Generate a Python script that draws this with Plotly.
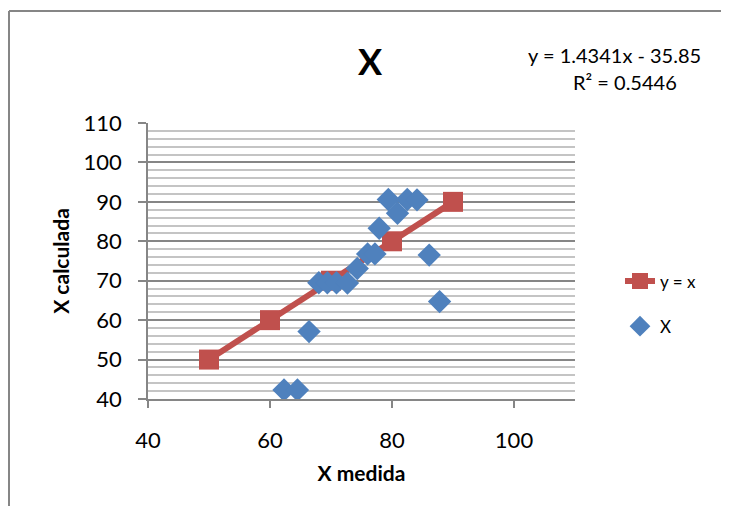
import plotly.graph_objects as go

# y = x reference line
ref_x = [50, 60, 70, 80, 90]
ref_y = [50, 60, 70, 80, 90]

# X medida vs X calculada
x_medida = [62.3, 64.5, 66.4, 68.0, 69.4, 70.9, 72.7, 74.3, 76.0, 77.2,
            77.9, 79.4, 80.9, 82.5, 84.1, 86.1, 87.8]
x_calculada = [42.3, 42.3, 57.1, 69.5, 69.5, 69.5, 69.4, 73.1, 76.8, 76.8,
               83.3, 90.6, 87.1, 90.6, 90.5, 76.5, 64.7]

x_ticks = [40, 60, 80, 100]
y_ticks = [40, 50, 60, 70, 80, 90, 100, 110]

FONT = "Lato"
AXIS_GRAY = "#868686"

fig = go.Figure()
fig.add_trace(go.Scatter(
    x=ref_x, y=ref_y, mode="lines+markers", name="y = x",
    line=dict(color="#C0504D", width=6),
    marker=dict(symbol="square", size=20, color="#C0504D"),
    legendgroup="a",
))
fig.add_trace(go.Scatter(
    x=x_medida, y=x_calculada, mode="markers", name="X",
    marker=dict(symbol="diamond", size=18, color="#4F81BD"),
    legendgroup="b",
))

# page body has an 8px margin: work in screen pixels, offset by 8
OFF = 8
W, H = 729 - OFF, 506 - OFF
L, R, T, B = 148, 575, 123, 399
pw, ph = R - L, B - T

def px(xp):
    return (xp - L) / pw

def py(yp):
    return (B - yp) / ph

fig.update_layout(
    width=W, height=H,
    margin=dict(l=L - OFF, r=729 - R, t=T - OFF, b=506 - B),
    paper_bgcolor="white", plot_bgcolor="white",
    font=dict(family=FONT, color="#000000"),
    title=dict(text="<b>X</b>", x=(370 - OFF) / W, xanchor="center",
               y=1 - (62 - OFF) / H, yanchor="middle",
               font=dict(size=36, family=FONT, color="#000000")),
    showlegend=True,
    legend=dict(x=px(620), xanchor="left", y=py(304), yanchor="middle",
                font=dict(size=17, family=FONT), tracegroupgap=20,
                bgcolor="rgba(0,0,0,0)"),
    xaxis=dict(range=[40, 110], tickvals=x_ticks, showgrid=False, zeroline=False,
               showline=True, linecolor=AXIS_GRAY, linewidth=1.5,
               ticks="outside", ticklen=7, tickcolor=AXIS_GRAY, tickwidth=1.5,
               tickfont=dict(size=22, family=FONT),
               ticklabelstandoff=14,
               title=dict(text="<b>X medida</b>", standoff=14,
                          font=dict(size=21, family=FONT))),
    yaxis=dict(range=[40, 110], tickvals=y_ticks, zeroline=False,
               showline=True, linecolor=AXIS_GRAY, linewidth=1.5,
               showgrid=True, gridcolor=AXIS_GRAY, gridwidth=1.5,
               minor=dict(dtick=2, showgrid=True, gridcolor="#C4C4C4", gridwidth=1.5),
               ticks="outside", ticklen=8, tickcolor=AXIS_GRAY, tickwidth=1.5,
               tickfont=dict(size=22, family=FONT),
               ticklabelstandoff=12,
               title=dict(text="<b>X calculada</b>", standoff=8,
                          font=dict(size=21, family=FONT))),
    annotations=[
        dict(text="y = 1.4341x - 35.85", xref="paper", yref="paper",
             x=px(614), y=py(55), xanchor="center", yanchor="middle",
             showarrow=False, font=dict(size=20, family=FONT)),
        dict(text="R² = 0.5446", xref="paper", yref="paper",
             x=px(625), y=py(82), xanchor="center", yanchor="middle",
             showarrow=False, font=dict(size=20, family=FONT)),
    ],
    shapes=[
        dict(type="line", xref="paper", yref="paper",
             x0=px(9), x1=px(9), y0=py(520), y1=py(11),
             line=dict(color=AXIS_GRAY, width=2)),
        dict(type="line", xref="paper", yref="paper",
             x0=px(9), x1=px(740), y0=py(11), y1=py(11),
             line=dict(color=AXIS_GRAY, width=2)),
    ],
)

fig.write_html("out.html")
